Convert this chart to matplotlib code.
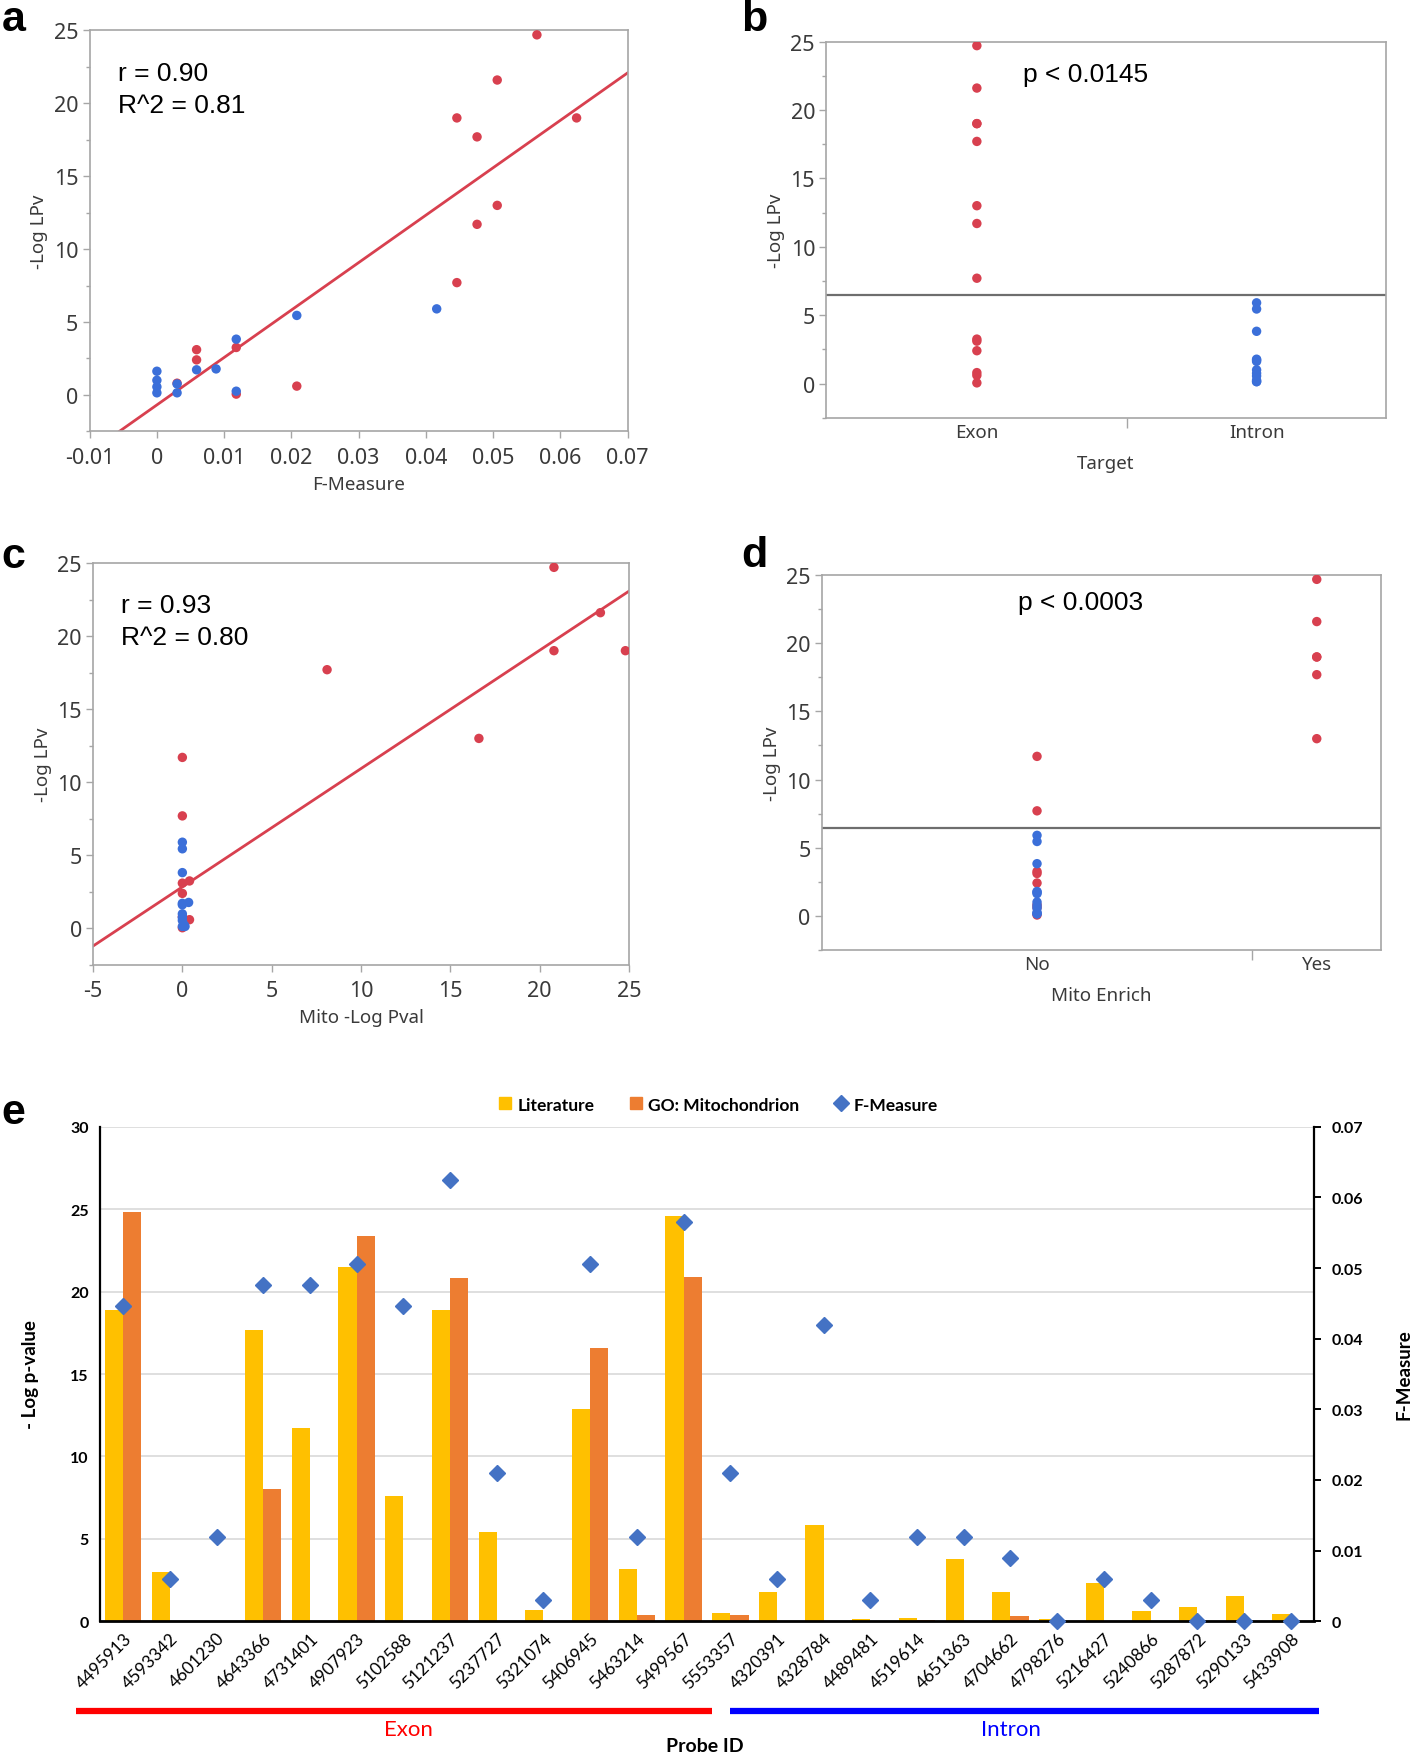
import matplotlib
matplotlib.use("Agg")
import matplotlib.pyplot as plt
import numpy as np
from matplotlib.lines import Line2D
from matplotlib.ticker import MultipleLocator

plt.rcParams["font.family"] = ["Noto Sans", "DejaVu Sans"]
plt.rcParams["axes.unicode_minus"] = False

# ---- panels a-d: one point per probe (JMP plots) ----
target = ["Exon"] * 14 + ["Intron"] * 12
lpv = [24.7, 21.6, 19.0, 19.0, 17.7, 13.0, 11.7, 7.7, 3.25, 3.1, 2.4, 0.8, 0.6, 0.05,
       5.9, 5.45, 3.82, 1.78, 1.72, 1.62, 1.0, 0.75, 0.55, 0.25, 0.14, 0.14]
fmeasure_pts = [0.0565, 0.0506, 0.0446, 0.0624, 0.0476, 0.0506, 0.0476, 0.0446, 0.0118, 0.0059,
                0.0059, 0.003, 0.0208, 0.0118,
                0.0416, 0.0208, 0.0118, 0.0088, 0.0059, 0.0, 0.0, 0.003, 0.0, 0.0118, 0.0, 0.003]
mito_pval = [20.8, 23.4, 24.8, 20.8, 8.1, 16.6, 0.0, 0.0, 0.4, 0.0, 0.0, 0.0, 0.4, 0.0,
             0.0, 0.0, 0.0, 0.35, 0.0, 0.0, 0.0, 0.0, 0.0, 0.1, 0.0, 0.15]
mito_enrich = ["Yes"] * 6 + ["No"] * 20

# ---- panel e: bar chart per probe ----
probes = ["4495913", "4593342", "4601230", "4643366", "4731401", "4907923", "5102588",
          "5121237", "5237727", "5321074", "5406945", "5463214", "5499567", "5553357",
          "4320391", "4328784", "4489481", "4519614", "4651363", "4704662", "4798276",
          "5216427", "5240866", "5287872", "5290133", "5433908"]
literature = [18.9, 3.0, 0.0, 17.7, 11.7, 21.5, 7.6, 18.9, 5.4, 0.7, 12.9, 3.2, 24.6, 0.5,
              1.75, 5.85, 0.12, 0.18, 3.75, 1.75, 0.12, 2.35, 0.6, 0.88, 1.55, 0.45]
go_mito = [24.8, 0.0, 0.0, 8.0, 0.0, 23.4, 0.0, 20.8, 0.0, 0.0, 16.6, 0.4, 20.9, 0.4,
           0.0, 0.0, 0.0, 0.07, 0.0, 0.3, 0.0, 0.0, 0.0, 0.0, 0.0, 0.0]
f_measure = [0.0446, 0.006, 0.012, 0.0476, 0.0476, 0.0506, 0.0446, 0.0625, 0.021, 0.003,
             0.0506, 0.012, 0.0565, 0.021,
             0.006, 0.042, 0.003, 0.012, 0.012, 0.009, 0.0, 0.006, 0.003, 0.0, 0.0, 0.0]
n_exon = 14

RED = "#D8404F"
BLUE = "#3B6FD9"
FRAME = "#A6A6A6"
INK = "#3A3A3A"
YELLOW = "#FFC000"
ORANGE = "#ED7D31"
DIAMOND = "#4472C4"
GRID = "#D9D9D9"

point_colors = [RED if t == "Exon" else BLUE for t in target]

fig = plt.figure(figsize=(14.16, 17.58), dpi=100)


def jmp_style(ax):
    for spine in ax.spines.values():
        spine.set_color(FRAME)
        spine.set_linewidth(1.2)
    ax.tick_params(colors=FRAME, labelcolor=INK, labelsize=15.5, length=5, width=1)
    ax.tick_params(which="minor", colors=FRAME, length=3, width=1)
    ax.tick_params(axis="y", pad=3)
    ax.set_ylim(-2.5, 25)
    ax.yaxis.set_major_locator(MultipleLocator(5))
    ax.yaxis.set_minor_locator(MultipleLocator(2.5))
    ax.set_ylabel("-Log LPv", fontsize=13.5, color=INK, labelpad=4)


def scatter_panel(ax, xvals, xlim, xstep, xlabel, stats):
    jmp_style(ax)
    ax.scatter(xvals, lpv, c=point_colors, s=46, zorder=3, linewidths=0)
    slope, intercept = np.polyfit(xvals, lpv, 1)
    xs = np.array(xlim)
    ax.plot(xs, slope * xs + intercept, color=RED, lw=2.0, zorder=2)
    ax.set_xlim(*xlim)
    ax.xaxis.set_major_locator(MultipleLocator(xstep))
    ax.tick_params(axis="x", pad=6)
    ax.set_xlabel(xlabel, fontsize=13.5, color=INK, labelpad=5)
    ax.text(0.052, 0.895, stats[0], transform=ax.transAxes, fontsize=19,
            family="Liberation Sans", va="center")
    ax.text(0.052, 0.815, stats[1], transform=ax.transAxes, fontsize=19,
            family="Liberation Sans", va="center")


def strip_panel(ax, groups, names, xlabel, ptext, py):
    jmp_style(ax)
    counts = [groups.count(n) for n in names]
    edges = np.concatenate([[0], np.cumsum(counts)])
    centers = (edges[:-1] + edges[1:]) / 2
    xpos = [centers[names.index(g)] for g in groups]
    ax.scatter(xpos, lpv, c=point_colors, s=46, zorder=3, linewidths=0)
    ax.axhline(np.mean(lpv), color="#6E6E6E", lw=1.6, zorder=2)
    ax.set_xlim(edges[0], edges[-1])
    ax.set_xticks(centers, names)
    ax.set_xticks(edges[1:-1], minor=True)
    ax.tick_params(axis="x", which="major", length=0, pad=4, labelsize=13.5)
    ax.tick_params(axis="x", which="minor", length=7)
    ax.set_xlabel(xlabel, fontsize=13.5, color=INK, labelpad=9)
    ax.text(0.463, py, ptext, transform=ax.transAxes, fontsize=19,
            family="Liberation Sans", ha="center", va="center")


ax_a = fig.add_axes([0.0633, 0.7541, 0.380, 0.2280])
scatter_panel(ax_a, fmeasure_pts, (-0.01, 0.07), 0.01, "F-Measure", ("r = 0.90", "R^2 = 0.81"))
ax_a.xaxis.set_major_formatter(lambda v, p: "0" if abs(v) < 1e-9 else f"{v:.2f}".rstrip("0"))

ax_b = fig.add_axes([0.5835, 0.7618, 0.3951, 0.2140])
strip_panel(ax_b, target, ["Exon", "Intron"], "Target", "p < 0.0145", 0.913)

ax_c = fig.add_axes([0.0657, 0.4505, 0.3785, 0.2287])
scatter_panel(ax_c, mito_pval, (-5, 25), 5, "Mito -Log Pval", ("r = 0.93", "R^2 = 0.80"))

ax_d = fig.add_axes([0.5804, 0.4592, 0.3951, 0.2130])
strip_panel(ax_d, mito_enrich, ["No", "Yes"], "Mito Enrich", "p < 0.0003", 0.928)

for letter, lx, ly in [("a", 0.0095, 0.9885), ("b", 0.533, 0.9885),
                       ("c", 0.0095, 0.683), ("d", 0.533, 0.684), ("e", 0.0095, 0.3667)]:
    fig.text(lx, ly, letter, fontsize=31, fontweight="bold", family="Liberation Sans",
             ha="center", va="center")

# ---- panel e ----
ax_e = fig.add_axes([0.0705, 0.0772, 0.8575, 0.2813])
x = np.arange(len(probes))
w = 0.39
ax_e.bar(x - w / 2, literature, w, color=YELLOW, zorder=2)
ax_e.bar(x + w / 2, go_mito, w, color=ORANGE, zorder=2)
ax_e.set_xlim(-0.5, len(probes) - 0.5)
ax_e.set_ylim(0, 30)
ax_e.yaxis.set_major_locator(MultipleLocator(5))
ax_e.grid(axis="y", color=GRID, lw=1.2, zorder=0)
ax_e.set_axisbelow(True)
for side in ["top", "right"]:
    ax_e.spines[side].set_visible(False)
ax_e.spines["left"].set_color("black")
ax_e.spines["bottom"].set_color("black")
ax_e.spines["left"].set_linewidth(1.6)
ax_e.spines["bottom"].set_linewidth(2.0)
ax_e.set_xticks(x, probes, rotation=45, ha="right", rotation_mode="anchor",
                family="Lato", fontsize=12.5)
ax_e.tick_params(axis="x", length=0, pad=6)
ax_e.tick_params(axis="y", length=0, pad=8)
for lab in ax_e.get_yticklabels():
    lab.set_family("Lato")
    lab.set_fontweight("bold")
    lab.set_fontsize(11.5)
ax_e.text(-0.057, 0.5, "- Log p-value", transform=ax_e.transAxes, rotation=90,
          ha="center", va="center", family="Lato", fontweight="bold", fontsize=13.5)

ax_f = ax_e.twinx()
ax_f.plot(x, f_measure, "D", color=DIAMOND, ms=8.5, clip_on=False, zorder=4)
ax_f.set_ylim(0, 0.07)
ax_f.yaxis.set_major_locator(MultipleLocator(0.01))
ax_f.yaxis.set_major_formatter(lambda v, p: "0" if abs(v) < 1e-9 else f"{v:.2f}")
for side in ["top", "left", "bottom"]:
    ax_f.spines[side].set_visible(False)
ax_f.spines["right"].set_linewidth(1.6)
ax_f.tick_params(axis="y", length=5, width=1.4, pad=8)
for lab in ax_f.get_yticklabels():
    lab.set_family("Lato")
    lab.set_fontweight("bold")
    lab.set_fontsize(11.5)
ax_e.text(1.074, 0.5, "F-Measure", transform=ax_e.transAxes, rotation=90,
          ha="center", va="center", family="Lato", fontweight="bold", fontsize=13.5)

handles = [
    Line2D([], [], ls="none", marker="s", ms=9, color=YELLOW, label="Literature"),
    Line2D([], [], ls="none", marker="s", ms=9, color=ORANGE, label="GO: Mitochondrion"),
    Line2D([], [], ls="none", marker="D", ms=8, color=DIAMOND, label="F-Measure"),
]
ax_e.legend(handles=handles, loc="center", bbox_to_anchor=(0.509, 1.045), ncol=3,
            frameon=False, handlelength=0.8, handletextpad=0.3, columnspacing=2.0,
            prop={"family": "Lato", "weight": "bold", "size": 12.5})

trans = ax_e.get_xaxis_transform()
n_all = len(probes)
groups_e = [("Exon", -1.0, n_exon - 1.4, 6.1, "#FF0000"),
            ("Intron", n_exon - 1.0, n_all - 0.4, 19.0, "#0000FF")]
for name, x0, x1, xt, col in groups_e:
    ax_e.plot([x0, x1], [-0.181, -0.181], color=col, lw=4.5, transform=trans, clip_on=False,
              solid_capstyle="butt")
    ax_e.text(xt, -0.218, name, color=col, transform=trans, ha="center", va="center",
              family="Lato", fontsize=16)
ax_e.text(0.498, -0.252, "Probe ID", transform=ax_e.transAxes, ha="center", va="center",
          family="Lato", fontweight="bold", fontsize=14)

fig.savefig("out.png", dpi=100)
